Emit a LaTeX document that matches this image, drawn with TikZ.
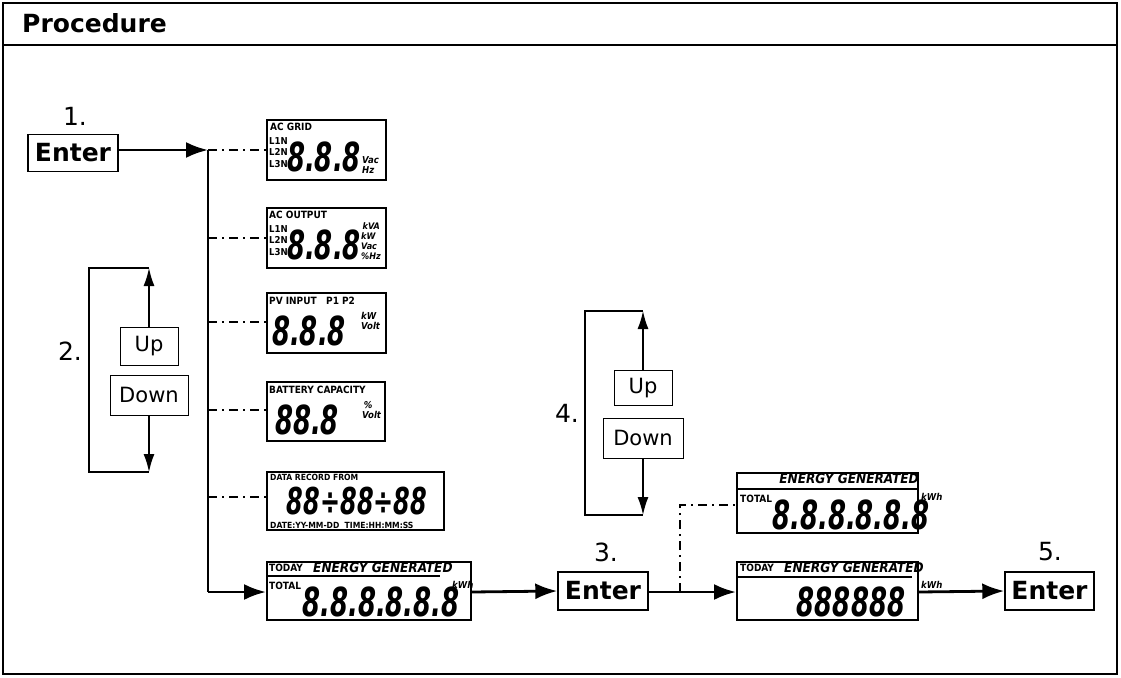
\documentclass[tikz,border=0pt]{standalone}
\usepackage{fontspec}
\setmainfont{DejaVu Sans}
\newfontfamily\lcdfont[FakeStretch=0.72]{DejaVu Sans Condensed}
\newfontfamily\cndfont{DejaVu Sans Condensed}
\usetikzlibrary{arrows.meta}
\begin{document}
\begin{tikzpicture}[x=1pt,y=-1pt,
  btn/.style={draw,line width=1.4pt,inner sep=0,font=\bfseries\fontsize{25}{25}\selectfont},
  sbtn/.style={draw,line width=1pt,inner sep=0,font=\fontsize{21}{21}\selectfont},
  lcd/.style={draw,line width=2pt,inner sep=0},
  lbl/.style={inner sep=0,font=\cndfont\bfseries\fontsize{10}{10}\selectfont},
  unit/.style={inner sep=0,font=\cndfont\bfseries\itshape\fontsize{9.5}{10}\selectfont,align=left},
  egen/.style={inner sep=0,font=\cndfont\bfseries\itshape\fontsize{13.5}{13.5}\selectfont},
  dig/.style={inner sep=0,font=\lcdfont\bfseries\itshape\fontsize{40}{40}\selectfont},
  flow/.style={line width=2.8pt},
  arr/.style={flow,-{Latex[length=22pt,width=16pt]}},
  sarr/.style={line width=1.5pt,-{Latex[length=18pt,width=11pt]}},
  dd/.style={line width=1.2pt,dash pattern=on 9pt off 5pt on 2pt off 5pt},
  num/.style={inner sep=0,font=\fontsize{25}{25}\selectfont}]
\useasboundingbox (0,0) rectangle (1121,677);
\draw[line width=1.4pt] (3,3) rectangle (1117,674);
\draw[line width=1.4pt] (3,45) -- (1117,45);
\node[anchor=west,inner sep=0,font=\bfseries\fontsize{25}{25}\selectfont] (title) at (22,23) {Procedure};
% step 1
\node[btn,minimum width=90,minimum height=37] (e1) at (73,153) {Enter};
\node[num] (n1) at (75,116) {1.};
\coordinate (j1) at (208,150);
\coordinate (jb) at (208,592);
\draw[arr] (e1.east |- j1) -- (j1);
\draw[flow] (j1) -- (jb);
% LCD boxes
\node[lcd,minimum width=119,minimum height=60] (g) at (326.5,150) {};
\node[lcd,minimum width=119,minimum height=60] (o) at (326.5,238) {};
\node[lcd,minimum width=119,minimum height=60] (p) at (326.5,323) {};
\node[lcd,minimum width=118,minimum height=59] (b) at (326,411) {};
\node[lcd,minimum width=177,minimum height=58] (d) at (355.5,501) {};
\node[lcd,minimum width=204,minimum height=58] (t) at (369,591) {};
\foreach \y/\n in {150/g,238/o,322/p,410/b,497/d}
  \draw[dd] (208,\y) -- (\n.west |- 0,\y);
\draw[arr] (jb) -- (t.west |- jb);
% AC GRID
\node[lbl,anchor=north west] at (270,123) {AC GRID};
\node[lbl,anchor=north west,align=left,font=\cndfont\bfseries\fontsize{9.5}{11.5}\selectfont] at (269,137) {L1N\\L2N\\L3N};
\node[dig] at (324,157) {8.8.8};
\node[unit,anchor=west] at (362,165) {Vac\\Hz};
% AC OUTPUT
\node[lbl,anchor=north west] at (269,211) {AC OUTPUT};
\node[lbl,anchor=north west,align=left,font=\cndfont\bfseries\fontsize{9.5}{11.5}\selectfont] at (269,225) {L1N\\L2N\\L3N};
\node[dig] at (324,245) {8.8.8};
\node[unit,anchor=west,font=\cndfont\bfseries\itshape\fontsize{9}{10}\selectfont] at (361,241) {\,kVA\\kW\\Vac\\\%Hz};
% PV INPUT
\node[lbl,anchor=north west] at (269,297) {PV INPUT \ \ P1 P2};
\node[dig] at (309,331) {8.8.8};
\node[unit,anchor=west] at (361,321) {kW\\Volt};
% BATTERY
\node[lbl,anchor=north west] at (269,386) {BATTERY CAPACITY};
\node[dig] at (307,420) {88.8};
\node[unit,anchor=west] at (362,410) {\,\%\\Volt};
% DATA RECORD
\node[lbl,anchor=north west,font=\cndfont\bfseries\fontsize{8.5}{9}\selectfont] at (270,474) {DATA RECORD FROM};
\node[dig,font=\lcdfont\bfseries\itshape\fontsize{37}{37}\selectfont] at (357,501) {88÷88÷88};
\node[lbl,anchor=south west,font=\cndfont\bfseries\fontsize{8.5}{9}\selectfont] at (270,529) {DATE:YY-MM-DD \ TIME:HH:MM:SS};
% energy today/total
\node[lbl,anchor=north west] at (269,564) {TODAY};
\node[egen,anchor=north west] at (313,562) {ENERGY GENERATED};
\draw[line width=1.2pt] (268,576) -- (440,576);
\node[lbl,anchor=north west] at (269,582) {TOTAL};
\node[dig] at (381,602) {8.8.8.8.8.8};
\node[unit,anchor=west] at (452,585) {kWh};
% step 2
\node[sbtn,minimum width=58,minimum height=38] (u2) at (149,346) {Up};
\node[sbtn,minimum width=78,minimum height=40] (d2) at (149,395) {Down};
\node[num] (n2) at (70,351) {2.};
\coordinate (a2) at (149,268);
\coordinate (b2) at (149,472);
\draw[sarr] (u2.north) -- (a2);
\draw[sarr] (d2.south) -- (b2);
\draw[line width=1.5pt] (a2) -- (89,268) -- (89,472) -- (b2);
% step 3
\node[btn,minimum width=90,minimum height=38] (e3) at (603,591) {Enter};
\node[num] (n3) at (606,552) {3.};
\draw[arr] (t.east |- 0,592) -- (e3.west);
% energy total box
\node[lcd,minimum width=181,minimum height=60] (tt) at (827.5,503) {};
\node[egen,anchor=north] at (849,473) {ENERGY GENERATED};
\draw[line width=1.2pt] (737,489) -- (918,489);
\node[lbl,anchor=north west] at (740,495) {TOTAL};
\node[dig] at (851,515) {8.8.8.8.8.8};
\node[unit,anchor=west] at (921,497) {kWh};
% energy today box
\node[lcd,minimum width=181,minimum height=58] (td) at (827.5,591) {};
\node[lbl,anchor=north west] at (740,564) {TODAY};
\node[egen,anchor=north west] at (784,562) {ENERGY GENERATED};
\draw[line width=1.2pt] (737,577) -- (912,577);
\node[dig] at (851,602) {888888};
\node[unit,anchor=west] at (921,585) {kWh};
\coordinate (s3) at (680,592);
\draw[arr] (e3.east |- 0,592) -- (td.west |- 0,592);
\draw[dd] (s3) -- (680,505) -- (tt.west |- 0,505);
% step 4
\node[sbtn,minimum width=58,minimum height=35] (u4) at (643,388) {Up};
\node[sbtn,minimum width=80,minimum height=40] (d4) at (643,438) {Down};
\node[num] (n4) at (567,413) {4.};
\coordinate (a4) at (643,311);
\coordinate (b4) at (643,515);
\draw[sarr] (u4.north) -- (a4);
\draw[sarr] (d4.south) -- (b4);
\draw[line width=1.5pt] (a4) -- (585,311) -- (585,515) -- (b4);
% step 5
\node[btn,minimum width=89,minimum height=38] (e5) at (1049.5,591) {Enter};
\node[num] (n5) at (1050,552) {5.};
\draw[arr] (td.east |- 0,592) -- (e5.west);
\end{tikzpicture}
\end{document}
